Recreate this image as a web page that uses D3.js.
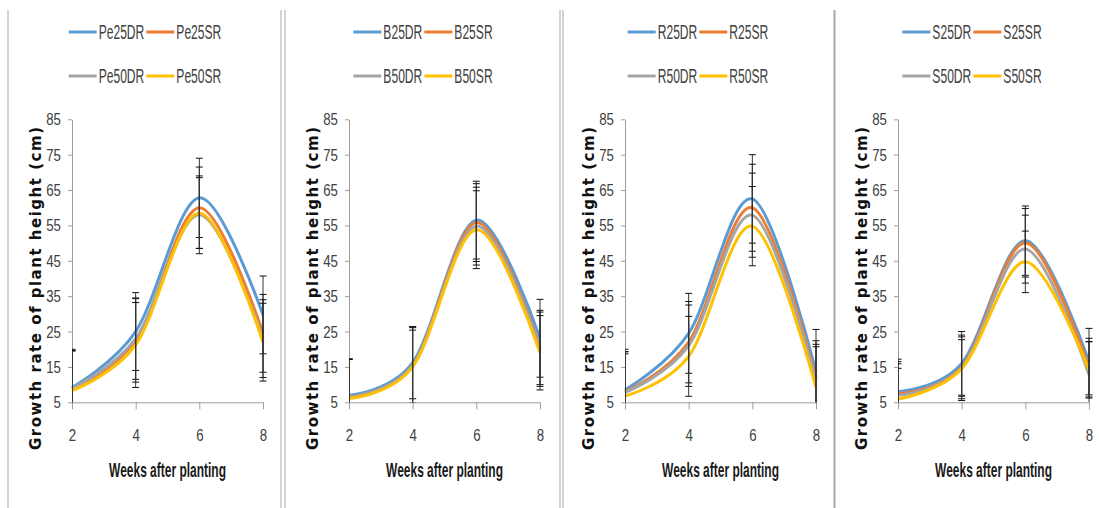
<!DOCTYPE html>
<html lang="en">
<head>
<meta charset="UTF-8">
<title>Growth rate of plant height</title>
<script src="https://d3js.org/d3.v7.min.js"></script>
<style>
    body { margin: 0; background: #fff; }
    .tick text { font-family: "Liberation Sans", Arial, sans-serif; font-size: 17px; fill: #404040; }
    .axis path, .axis line { stroke: #9d9d9d; }
</style>
</head>
<body>
<script>
// weeks after planting (x values)
const weeks = [2, 4, 6, 8];
const yTicks = [5, 15, 25, 35, 45, 55, 65, 75, 85];

// series labels per panel
const peLabels = ["Pe25DR", "Pe25SR", "Pe50DR", "Pe50SR"];
const bLabels = ["B25DR", "B25SR", "B50DR", "B50SR"];
const rLabels = ["R25DR", "R25SR", "R50DR", "R50SR"];
const sLabels = ["S25DR", "S25SR", "S50DR", "S50SR"];

// means (cm) per series, weeks 2,4,6,8
const peMeans = [
    [9.2, 25.0, 62.8, 29.7],
    [8.8, 22.5, 60.0, 24.5],
    [8.9, 23.0, 58.0, 23.0],
    [8.3, 21.2, 58.5, 22.0]
];
const peErrors = [
    [10.8, 11.0, 11.2, 11.0],
    [10.9, 11.8, 11.5, 11.0],
    [10.6, 11.5, 11.0, 11.0],
    [11.3, 12.0, 10.0, 11.0]
];

const bMeans = [
    [7.0, 16.2, 56.5, 23.1],
    [6.6, 15.5, 55.8, 20.5],
    [6.5, 15.5, 54.8, 20.0],
    [6.1, 15.0, 53.8, 19.0]
];
const bErrors = [
    [10.2, 10.2, 11.0, 11.0],
    [10.6, 10.9, 11.0, 10.5],
    [10.7, 10.6, 11.0, 10.5],
    [11.1, 10.4, 11.0, 10.5]
];

const rMeans = [
    [8.5, 24.5, 62.5, 13.6],
    [8.0, 22.0, 60.0, 11.8],
    [7.8, 21.0, 57.9, 11.0],
    [6.8, 18.0, 54.8, 9.2]
];
const rErrors = [
    [11.5, 11.3, 12.5, 12.0],
    [11.3, 11.5, 12.3, 10.6],
    [10.9, 11.5, 11.9, 10.4],
    [12.5, 11.3, 11.2, 11.5]
];

const sMeans = [
    [8.0, 16.0, 50.7, 16.5],
    [7.5, 15.0, 50.1, 14.8],
    [7.0, 14.7, 48.3, 12.8],
    [5.9, 14.5, 44.7, 14.2]
];
const sErrors = [
    [9.2, 9.0, 9.8, 9.4],
    [9.0, 9.0, 9.7, 8.3],
    [7.6, 8.0, 9.6, 9.3],
    [10.0, 9.0, 8.7, 8.0]
];

const colors = ["#5b9bd5", "#ed7d31", "#a5a5a5", "#ffc000"];

const panels = [
    { labels: peLabels, means: peMeans, errors: peErrors },
    { labels: bLabels, means: bMeans, errors: bErrors },
    { labels: rLabels, means: rMeans, errors: rErrors },
    { labels: sLabels, means: sMeans, errors: sErrors }
];

// layout
const W = 1099, H = 508;
const plotLeft = [72, 349, 625, 898];
const plotW = 191;
const yTop = 119.3, yBottom = 402.3;
const legendCenter = [145, 423, 698, 972];
const separators = [[8, 1], [281, 1], [285, 1], [560, 1], [563, 1], [834.5, 2]];
const legendScale = 0.62;
const tickScale = 0.78;

const svg = d3.select("body").append("svg")
    .attr("width", W)
    .attr("height", H);

// panel borders
svg.selectAll(".sep")
    .data(separators)
    .enter().append("line")
    .attr("class", "sep")
    .attr("x1", d => d[0]).attr("x2", d => d[0])
    .attr("y1", 10).attr("y2", H)
    .attr("stroke", "#a8a8a8")
    .attr("stroke-width", d => d[1]);

// squeeze tick labels horizontally (narrow look of the original)
function narrowTicks(sel) {
    sel.selectAll(".tick text").each(function () {
        const w = this.getComputedTextLength();
        d3.select(this)
            .attr("textLength", w * tickScale)
            .attr("lengthAdjust", "spacingAndGlyphs");
    });
}

panels.forEach((p, i) => {
    const x = d3.scaleLinear().domain([2, 8]).range([plotLeft[i], plotLeft[i] + plotW]);
    const y = d3.scaleLinear().domain([5, 85]).range([yBottom, yTop]);
    const g = svg.append("g");

    // axes
    g.append("g")
        .attr("class", "axis")
        .attr("transform", "translate(0," + yBottom + ")")
        .call(d3.axisBottom(x).tickValues(weeks).tickFormat(d3.format("d"))
            .tickSize(7).tickSizeOuter(0).tickPadding(20))
        .call(narrowTicks);

    g.append("g")
        .attr("class", "axis")
        .attr("transform", "translate(" + plotLeft[i] + ",0)")
        .call(d3.axisLeft(y).tickValues(yTicks).tickSize(4).tickSizeOuter(0).tickPadding(7))
        .call(narrowTicks);

    // axis titles
    const xt = g.append("text")
        .attr("text-anchor", "middle")
        .style("font-family", "'Liberation Sans', Arial, sans-serif")
        .style("font-weight", "bold")
        .style("font-size", "20px")
        .style("fill", "#1a1a1a")
        .text("Weeks after planting");
    const xtScale = 117 / xt.node().getComputedTextLength();
    xt.attr("transform", "translate(" + (plotLeft[i] + plotW / 2) + ",476.5) scale(" + xtScale + ",1)");

    g.append("text")
        .attr("transform", "translate(" + (plotLeft[i] - 31) + "," + 288.5 + ") rotate(-90)")
        .attr("text-anchor", "middle")
        .attr("textLength", 323)
        .style("font-family", "'DejaVu Sans', sans-serif")
        .style("font-weight", "bold")
        .style("font-size", "15px")
        .style("fill", "#111")
        .text("Growth rate of plant height (cm)");

    // smoothed lines
    const line = d3.line()
        .x((d, j) => x(weeks[j]))
        .y(d => y(d))
        .curve(d3.curveCardinal.tension(0));

    g.selectAll(".series")
        .data(p.means)
        .enter().append("path")
        .attr("class", "series")
        .attr("d", line)
        .attr("fill", "none")
        .attr("stroke", (d, k) => colors[k])
        .attr("stroke-width", 3);

    // error bars, clipped to plot area
    const clipId = "clip" + i;
    svg.append("clipPath").attr("id", clipId)
        .append("rect")
        .attr("x", plotLeft[i])
        .attr("y", yTop - 10)
        .attr("width", plotW + 10)
        .attr("height", yBottom - yTop + 10);

    const eb = g.append("g").attr("clip-path", "url(#" + clipId + ")");
    p.means.forEach((m, k) => {
        m.forEach((v, j) => {
            const e = p.errors[k][j];
            const cx = x(weeks[j]);
            eb.append("line")
                .attr("x1", cx).attr("x2", cx)
                .attr("y1", y(v - e)).attr("y2", y(v + e))
                .attr("stroke", "#333").attr("stroke-width", 1);
            [v - e, v + e].forEach(b => {
                eb.append("line")
                    .attr("x1", cx - 3.5).attr("x2", cx + 3.5)
                    .attr("y1", y(b)).attr("y2", y(b))
                    .attr("stroke", "#111").attr("stroke-width", 1);
            });
        });
    });

    // legend (2 x 2 grid)
    const lg = g.append("g");
    const items = p.labels.map((lab, k) => {
        const t = lg.append("text")
            .style("font-family", "'Liberation Sans', Arial, sans-serif")
            .style("font-size", "19.5px")
            .style("fill", "#404040")
            .text(lab);
        return { t: t, w: t.node().getComputedTextLength() * legendScale, k: k };
    });
    const col1 = 30 + Math.max(items[0].w, items[2].w) + 2;
    const col2 = 30 + Math.max(items[1].w, items[3].w);
    const start = legendCenter[i] - (col1 + col2) / 2;
    items.forEach(it => {
        const cx = start + (it.k % 2 === 0 ? 0 : col1);
        const cy = it.k < 2 ? 32 : 76;
        lg.append("line")
            .attr("x1", cx).attr("x2", cx + 28)
            .attr("y1", cy).attr("y2", cy)
            .attr("stroke", colors[it.k])
            .attr("stroke-width", 3);
        it.t.attr("transform", "translate(" + (cx + 30) + "," + (cy + 7) + ") scale(" + legendScale + ",1)");
    });
});
</script>
</body>
</html>
